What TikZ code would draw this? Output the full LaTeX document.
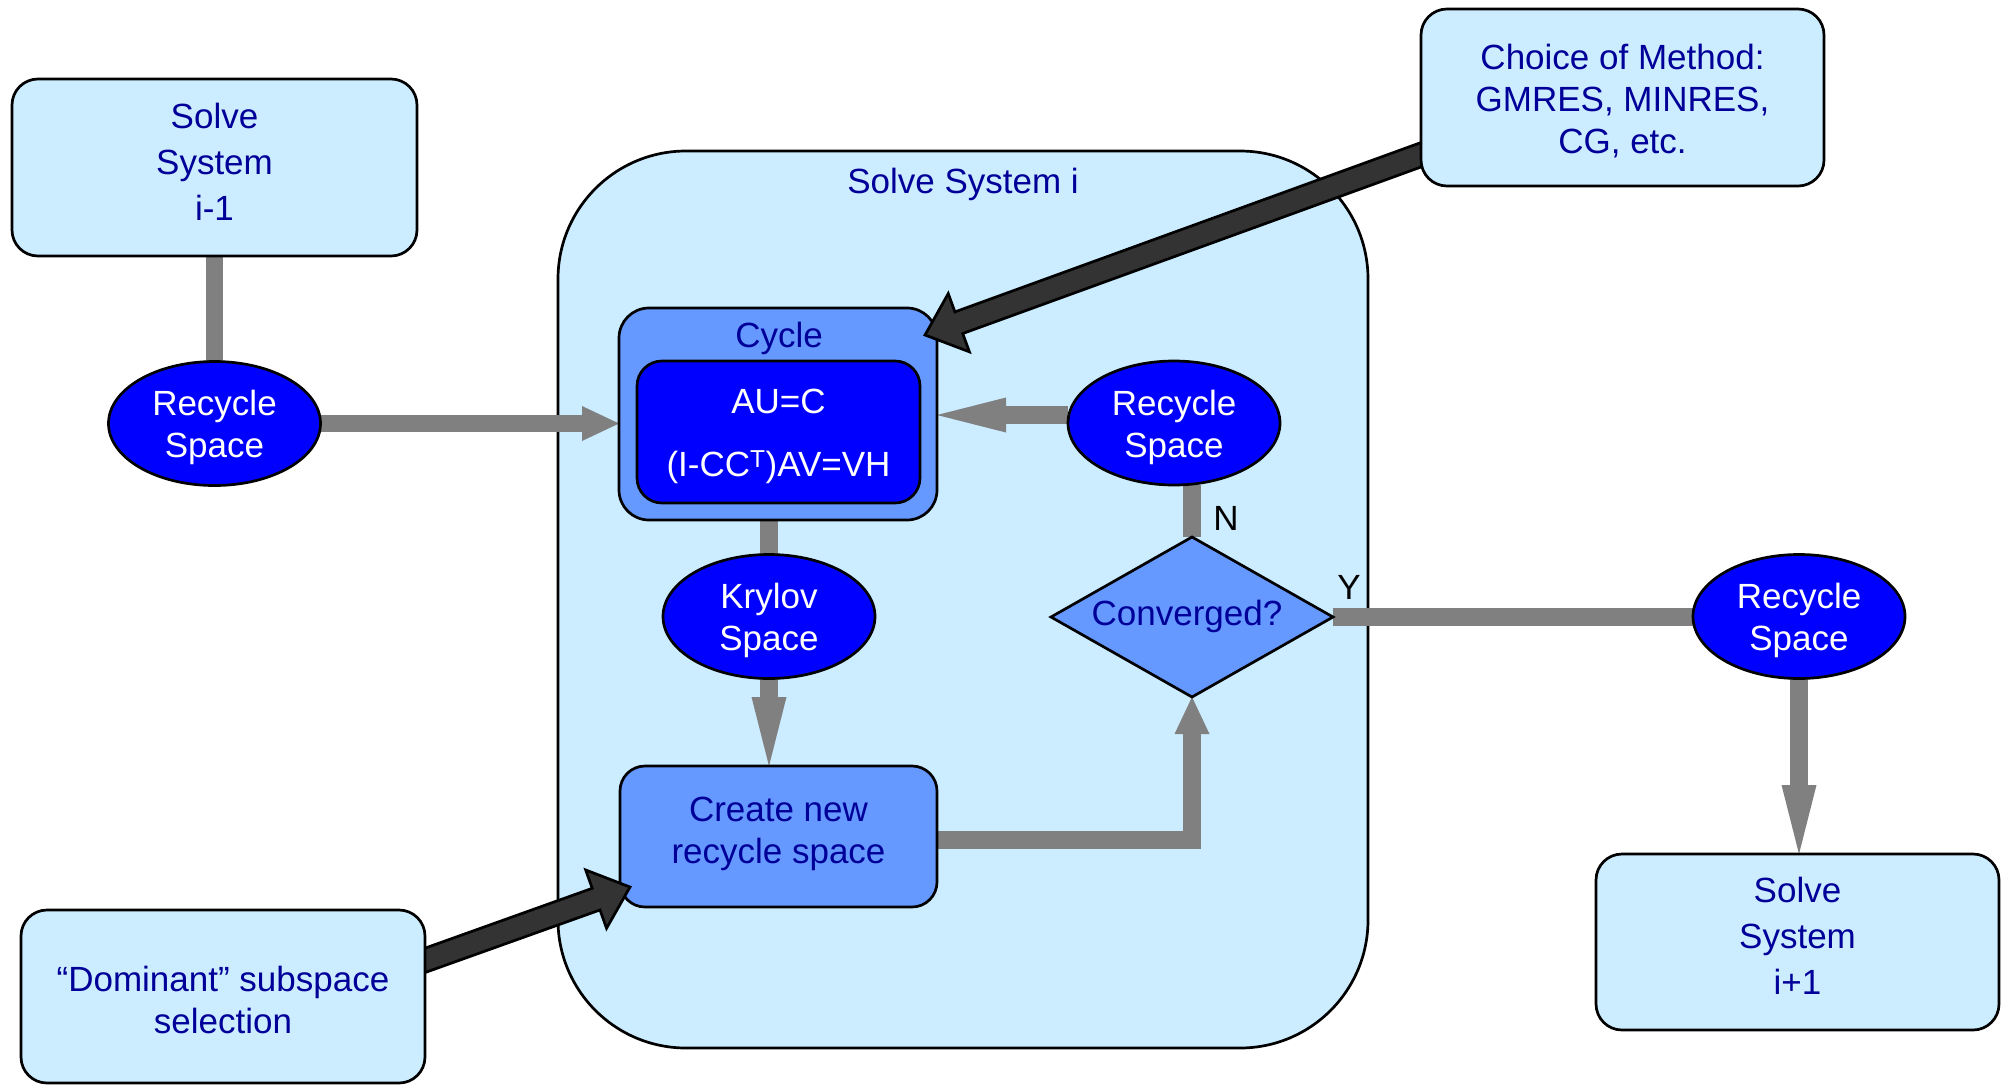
\documentclass[tikz,border=0pt]{standalone}
\usepackage{fontspec}
\setmainfont{Liberation Sans}
\usetikzlibrary{arrows.meta,shapes.geometric,calc}
\definecolor{lightfill}{HTML}{CCECFF}
\definecolor{medblue}{HTML}{6699FF}
\definecolor{deepblue}{HTML}{0000FF}
\definecolor{navytext}{HTML}{000099}
\definecolor{linkgray}{HTML}{808080}
\definecolor{darkfill}{HTML}{333333}
\pgfdeclarelayer{back}
\pgfdeclarelayer{mid}
\pgfdeclarelayer{front}
\pgfsetlayers{back,mid,main,front}
\newcommand{\fatarrowdraw}[2]{%
  \coordinate (fah) at ($(#2)!36pt!(#1)$);
  \draw[fatarrow] ($(#1)!11.5pt!90:(#2)$) -- ($(fah)!11.5pt!-90:(#1)$) -- ($(fah)!31pt!-90:(#1)$) -- (#2) -- ($(fah)!31pt!90:(#1)$) -- ($(fah)!11.5pt!90:(#1)$) -- ($(#1)!11.5pt!-90:(#2)$) -- cycle;}
\begin{document}
\begin{tikzpicture}[x=1pt,y=-1pt,
  every node/.style={font=\fontsize{35}{42}\selectfont, inner sep=0pt, outer sep=0pt},
  outline/.style={draw=black, line width=2.7pt},
  lightbox/.style={outline, fill=lightfill, rounded corners=26pt},
  blueell/.style={outline, ellipse, fill=deepblue, minimum width=212pt, minimum height=124pt},
  medbox/.style={outline, fill=medblue, rounded corners=30pt},
  navytxt/.style={text=navytext, align=center},
  whitetxt/.style={text=white, align=center},
  link/.style={draw=linkgray, line width=17.5pt},
  shorttip/.style={link, -{Triangle[length=37pt,width=35pt,line width=0pt]}},
  longtip/.style={link, -{Triangle[length=69pt,width=35pt,line width=0pt]}},
  fatarrow/.style={fill=darkfill, draw=black, line width=2.7pt, line join=miter}
]
\useasboundingbox (0,0) rectangle (2007,1085);

\begin{pgfonlayer}{back}
\node[outline, fill=lightfill, rounded corners=128pt, minimum width=810pt, minimum height=897pt] (sysi) at (963,599.5) {};
\end{pgfonlayer}
\node[navytxt] (sysilbl) at (963,184) {Solve System i};

% main nodes
\node[lightbox, minimum width=405pt, minimum height=177pt] (s1) at (214.5,167.5) {};
\node[navytxt, font=\fontsize{35}{46}\selectfont] (s1t) at ($(s1.center)+(0,-6)$) {Solve\\System\\i-1};
\node[blueell] (rs1) at (214.5,423.5) {};
\node[whitetxt] (rs1t) at ($(rs1.center)+(0,4)$) {Recycle\\Space};
\node[medbox, minimum width=318pt, minimum height=212pt] (cycle) at (778,414) {};
\node[navytxt] (cyclelbl) at (779,338) {Cycle};
\node[outline, fill=deepblue, rounded corners=25pt, minimum width=283pt, minimum height=142pt] (eqs) at (778.5,432) {};
\node[whitetxt] (eqst) at ($(eqs.center)+(0,4)$) {AU=C\\[21pt](I-CC\textsuperscript{T})AV=VH};
\node[blueell] (rs2) at (1174,423) {};
\node[whitetxt] (rs2t) at ($(rs2.center)+(0,4)$) {Recycle\\Space};
\node[blueell] (kry) at (769,616.5) {};
\node[whitetxt] (kryt) at ($(kry.center)+(0,4)$) {Krylov\\Space};
\node[outline, diamond, fill=medblue, minimum width=282pt, minimum height=160pt] (conv) at (1192,617) {};
\node[navytxt] (convlbl) at (1187,616) {Converged?};
\node[medbox, rounded corners=25pt, minimum width=317pt, minimum height=141pt] (create) at (778.5,836.5) {};
\node[navytxt] (createt) at ($(create.center)+(0,-3)$) {Create new\\recycle space};
\node[blueell] (rs3) at (1799,616.5) {};
\node[whitetxt] (rs3t) at ($(rs3.center)+(0,4)$) {Recycle\\Space};
\node[lightbox, minimum width=403pt, minimum height=176pt] (s2) at (1797.5,942) {};
\node[navytxt, font=\fontsize{35}{46}\selectfont] (s2t) at ($(s2.center)+(0,-6)$) {Solve\\System\\i+1};
\node[text=black] (nlbl) at (1226,518) {N};
\node[text=black] (ylbl) at (1349,587) {Y};

\begin{pgfonlayer}{front}
\node[lightbox, minimum width=403pt, minimum height=177pt] (choice) at (1622.5,97.5) {};
\node[navytxt] (choicet) at ($(choice.center)+(0,4)$) {Choice of Method:\\GMRES, MINRES,\\CG, etc.};
\node[lightbox, minimum width=404pt, minimum height=173pt] (dom) at (223,996.5) {};
\node[navytxt] (domt) at ($(dom.center)+(0,3)$) {“Dominant” subspace\\selection};
\end{pgfonlayer}

% gray connectors
\begin{pgfonlayer}{mid}
\draw[link] (s1.south) -- (rs1.north);
\draw[shorttip] (rs1.east) -- (rs1.east -| cycle.west);
\coordinate (rs2out) at ($(rs2.west)+(0,-8)$);
\draw[longtip] (rs2out) -- (rs2out -| cycle.east);
\draw[link] (cycle.south -| kry.north) -- (kry.north);
\draw[longtip] (kry.south) -- (kry.south |- create.north);
\coordinate (createout) at ($(create.east)+(0,3.5)$);
\draw[shorttip] (createout) -| (conv.south);
\draw[link] (conv.north) -- (conv.north |- rs2.south);
\draw[link] (conv.east) -- (conv.east -| rs3.west);
\draw[longtip] (rs3.south) -- (rs3.south |- s2.north);
\end{pgfonlayer}

% dark arrows
\coordinate (da1s) at ($(choice.west)+(20,50)$);
\coordinate (da1e) at ($(cycle.north east)+(-12,27)$);
\fatarrowdraw{da1s}{da1e}
\coordinate (da2s) at ($(dom.east)+(-20,-29)$);
\coordinate (da2e) at ($(create.south west)+(10,-20)$);
\fatarrowdraw{da2s}{da2e}
\end{tikzpicture}
\end{document}
